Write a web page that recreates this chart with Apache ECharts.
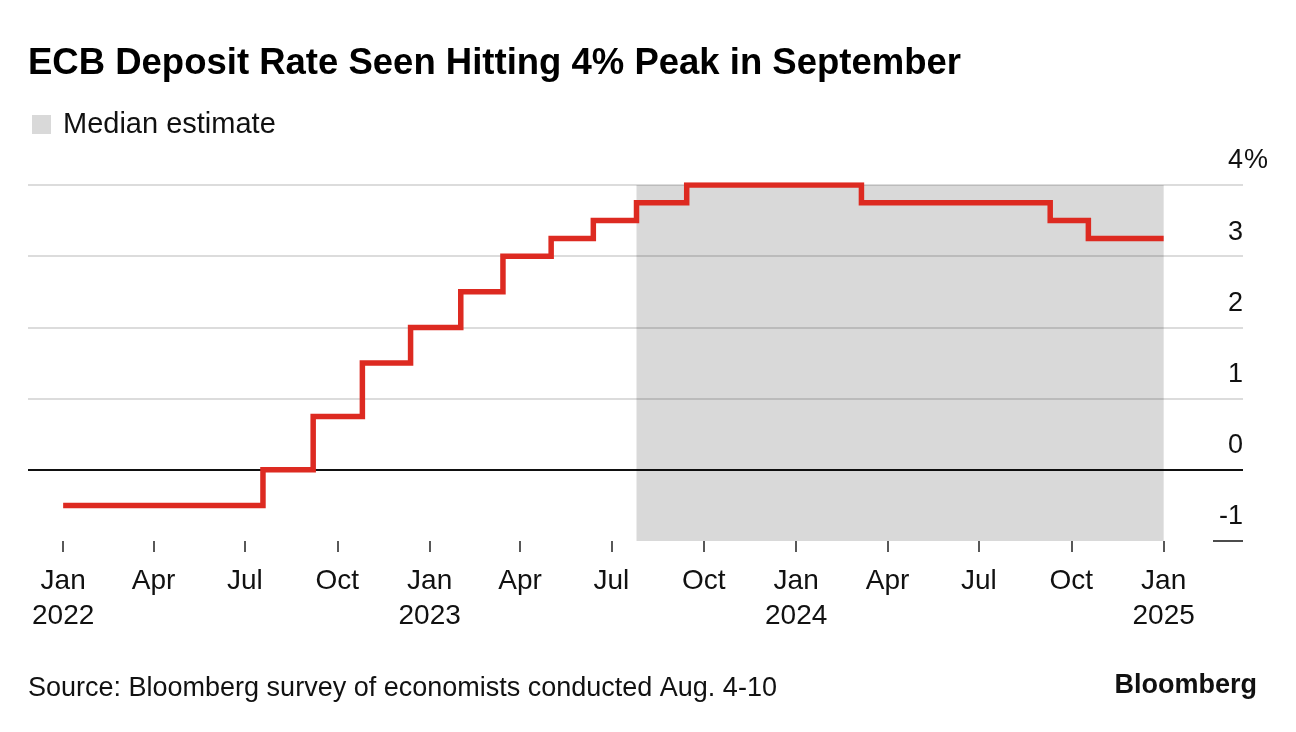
<!DOCTYPE html>
<html>
<head>
<meta charset="utf-8">
<script src="https://cdn.jsdelivr.net/npm/echarts@6/dist/echarts.min.js"></script>
<style>
html,body{margin:0;padding:0;background:#fff;}
#chart{width:1296px;height:732px;}
</style>
</head>
<body>
<div id="chart"></div>
<script>
// ---- data ----
const changeDates = ['2022-01-01','2022-07-19','2022-09-07','2022-10-26','2022-12-13','2023-02-01','2023-03-15','2023-05-02','2023-06-13','2023-07-26','2023-09-14','2024-03-06','2024-09-10','2024-10-18','2025-01-01'];
const depositRate = [-0.5, 0, 0.75, 1.5, 2.0, 2.5, 3.0, 3.25, 3.5, 3.75, 4.0, 3.75, 3.5, 3.25, 3.25];
const estimateStart = '2023-07-26';
const estimateEnd = '2025-01-01';
const monthNames = ['Jan','Feb','Mar','Apr','May','Jun','Jul','Aug','Sep','Oct','Nov','Dec'];
const yTicks = [-1, 0, 1, 2, 3, 4];

const FONT = '"Liberation Sans", Arial, Helvetica, sans-serif';

function ts(s) {
  const p = s.split('-').map(Number);
  return new Date(p[0], p[1] - 1, p[2]).getTime();
}

// quarterly tick positions Jan 2022 .. Jan 2025
const quarterTicks = [];
for (let y = 2022; y <= 2025; y++) {
  for (let m = 0; m < 12; m += 3) {
    if (y === 2025 && m > 0) break;
    quarterTicks.push(new Date(y, m, 1).getTime());
  }
}

const lineData = changeDates.map((d, i) => [ts(d), depositRate[i]]);

const chart = echarts.init(document.getElementById('chart'), null, {renderer: 'canvas'});
chart.setOption({
  animation: false,
  backgroundColor: '#ffffff',
  title: {
    text: 'ECB Deposit Rate Seen Hitting 4% Peak in September',
    left: 28, top: 44, padding: 0,
    textStyle: {fontFamily: FONT, fontWeight: 'bold', fontSize: 36.5, color: '#000', lineHeight: 40}
  },
  legend: {
    left: 32, top: 110, padding: 0,
    itemWidth: 19, itemHeight: 19,
    icon: 'rect',
    data: [{name: 'Median estimate', itemStyle: {color: '#d9d9d9'}}],
    textStyle: {fontFamily: FONT, fontSize: 29, color: '#111', padding: [0, 0, 0, 7]}
  },
  grid: {left: 28, right: 53, top: 185, bottom: 191, containLabel: false},
  xAxis: {
    type: 'value',
    min: ts('2021-11-27'),
    max: ts('2025-03-21'),
    axisLine: {show: false, onZero: false},
    splitLine: {show: false},
    axisTick: {show: true, customValues: quarterTicks, length: 11, lineStyle: {color: '#222', width: 1.5}},
    axisLabel: {
      customValues: quarterTicks,
      margin: 23,
      fontFamily: FONT, fontSize: 28, color: '#111', lineHeight: 35,
      formatter: function (v) {
        const d = new Date(v);
        const m = d.getMonth();
        return m === 0 ? monthNames[m] + '\n' + d.getFullYear() : monthNames[m];
      }
    }
  },
  yAxis: [{
    type: 'value', position: 'right',
    min: -1, max: 4, interval: 1,
    axisLine: {show: false},
    axisTick: {show: false},
    splitLine: {show: true, lineStyle: {color: ['rgba(0,0,0,0)', '#111111', '#dcdcdc', '#dcdcdc', '#dcdcdc', '#dcdcdc'], width: 1.8}},
    axisLabel: {
      inside: true, margin: 0, align: 'right', verticalAlign: 'bottom',
      lineHeight: 26, padding: [0, 0, 11, 0],
      fontFamily: FONT, fontSize: 27, color: '#111',
      formatter: function (v) { return String(v); }
    }
  }, {
    type: 'value', position: 'right',
    min: -1, max: 4, interval: 1,
    axisLine: {show: false},
    axisTick: {show: true, inside: true, length: 30, customValues: [-1], lineStyle: {color: '#111', width: 1.5}},
    splitLine: {show: false},
    axisLabel: {
      inside: false, margin: 1, align: 'left', verticalAlign: 'bottom',
      lineHeight: 26, padding: [0, 0, 11, 0],
      fontFamily: FONT, fontSize: 27, color: '#111',
      customValues: [4],
      formatter: function (v) { return v === 4 ? '%' : ''; }
    }
  }],
  series: [{
    name: 'Median estimate',
    type: 'line',
    data: [],
    itemStyle: {color: '#d9d9d9'},
    markArea: {
      silent: true,
      itemStyle: {color: 'rgba(0,0,0,0.15)'},
      data: [[{xAxis: ts(estimateStart), yAxis: 4}, {xAxis: ts(estimateEnd), yAxis: -1}]]
    }
  }, {
    name: 'Deposit rate',
    type: 'line',
    step: 'end',
    data: lineData,
    showSymbol: false,
    symbol: 'none',
    lineStyle: {color: '#dd2a21', width: 5.5, cap: 'butt', join: 'miter'},
    itemStyle: {color: '#dd2a21'},
    z: 5
  }],
  graphic: [{
    type: 'text', left: 28, top: 675,
    style: {text: 'Source: Bloomberg survey of economists conducted Aug. 4-10', font: '27px ' + FONT, fill: '#111'}
  }, {
    type: 'text', right: 39, top: 672,
    style: {text: 'Bloomberg', font: 'bold 27px ' + FONT, fill: '#111'}
  }]
});
</script>
</body>
</html>
